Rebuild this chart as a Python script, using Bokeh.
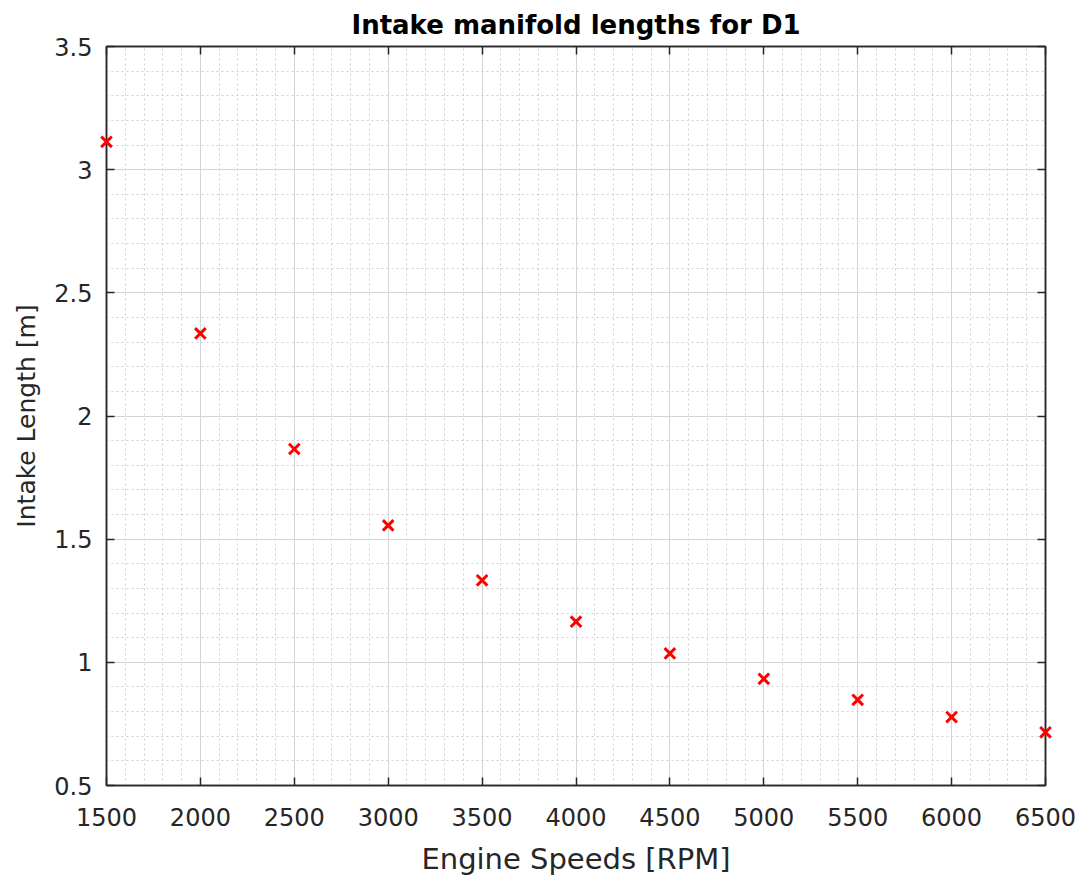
from bokeh.plotting import figure
from bokeh.models import LinearAxis, SingleIntervalTicker, Range1d, CustomJSTickFormatter
from bokeh.embed import file_html
from bokeh.resources import INLINE

engine_speeds = [1500, 2000, 2500, 3000, 3500, 4000, 4500, 5000, 5500, 6000, 6500]
intake_length = [3.113, 2.335, 1.866, 1.556, 1.333, 1.165, 1.036, 0.933, 0.848, 0.778, 0.716]

FONT = "DejaVu Sans"
DARK = "#262626"

p = figure(frame_width=939, frame_height=739, output_backend="svg", toolbar_location=None,
           x_range=Range1d(1500, 6500), y_range=Range1d(0.5, 3.5),
           min_border_left=106, min_border_right=38, min_border_top=46, min_border_bottom=91,
           x_axis_label="Engine Speeds [RPM]", y_axis_label="Intake Length [m]")

p.title.text = "Intake manifold lengths for D1"
p.title.align = "center"
p.title.text_font = FONT
p.title.text_font_size = "26px"
p.title.text_font_style = "bold"
p.title.text_color = "black"
p.title.offset = 0
p.title.standoff = 14

xt = SingleIntervalTicker(interval=500, num_minor_ticks=5)
yt = SingleIntervalTicker(interval=0.5, num_minor_ticks=5)

p.xaxis.ticker = xt
p.yaxis.ticker = yt

for ax in (p.xaxis[0], p.yaxis[0]):
    ax.axis_line_color = DARK
    ax.axis_line_width = 1.5
    ax.major_tick_in = 8
    ax.major_tick_out = 0
    ax.major_tick_line_color = DARK
    ax.major_tick_line_width = 1.5
    ax.minor_tick_in = 0
    ax.minor_tick_out = 0
    ax.major_label_text_font = FONT
    ax.major_label_text_font_size = "24px"
    ax.major_label_text_color = DARK
    ax.axis_label_text_font = FONT
    ax.axis_label_text_font_style = "normal"
    ax.axis_label_text_color = DARK

p.xaxis.axis_label_text_font_size = "29px"
p.yaxis.axis_label_text_font_size = "25px"
p.xaxis.major_label_standoff = 22
p.xaxis.axis_label_standoff = 13
p.yaxis.major_label_standoff = 14
p.yaxis.axis_label_standoff = 10

blank = CustomJSTickFormatter(code="return ''")
for loc, tk in (("above", xt), ("right", yt)):
    ax = LinearAxis(ticker=tk, formatter=blank)
    ax.axis_line_color = DARK
    ax.axis_line_width = 1.5
    ax.major_tick_in = 8
    ax.major_tick_out = 0
    ax.major_tick_line_color = DARK
    ax.major_tick_line_width = 1.5
    ax.minor_tick_in = 0
    ax.minor_tick_out = 0
    ax.major_label_standoff = 0
    p.add_layout(ax, loc)

p.xgrid.ticker = xt
p.ygrid.ticker = yt
for g in (p.xgrid[0], p.ygrid[0]):
    g.grid_line_color = "#d4d4d4"
    g.grid_line_width = 1
    g.minor_grid_line_color = "#cfcfcf"
    g.minor_grid_line_dash = "2 3"
    g.minor_grid_line_width = 1

p.outline_line_color = DARK
p.outline_line_width = 1.5
p.background_fill_color = "white"
p.border_fill_color = "white"

p.scatter(engine_speeds, intake_length, marker="x", size=15, line_color="#ff0000", line_width=3,
          level="overlay")

open("out.html", "w").write(file_html(p, INLINE))
